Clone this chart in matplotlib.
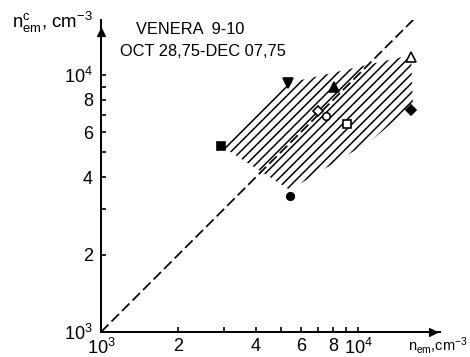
import matplotlib
matplotlib.use("Agg")
import matplotlib.pyplot as plt
from matplotlib.patches import Polygon

# electron density measurements, cm^-3 (VENERA 9-10)
n_em = [2930, 5340, 8070, 6990, 7500, 9060, 16080, 16080, 5430]
n_em_c = [5300, 9310, 8980, 7250, 6930, 6450, 11750, 7310, 3380]
point_markers = ["s", "v", "^", "D", "o", "s", "^", "D", "o"]
point_filled = [True, True, True, False, False, False, False, True, True]

# hatched scatter band outline
band_x = [2930, 5350, 16070, 16370, 11320, 5430]
band_y = [5300, 9310, 11970, 7640, 5580, 3570]

# equality line n_em^c = n_em
diag = [1000, 17100]

x_ticks = [1e3, 2e3, 3e3, 4e3, 5e3, 6e3, 7e3, 8e3, 9e3, 1e4]
x_labels = [r"$10^3$", "2", "", "4", "", "6", "", "8", "", r"$10^4$"]
y_ticks = [1e3, 2e3, 3e3, 4e3, 5e3, 6e3, 7e3, 8e3, 9e3, 1e4]
y_labels = [r"$10^3$", "2", "", "4", "", "6", "", "8", "", r"$10^4$"]

DPI = 84
W, H = 471, 357
plt.rcParams["font.family"] = ["Liberation Sans", "DejaVu Sans"]
plt.rcParams["mathtext.fontset"] = "custom"
plt.rcParams["mathtext.rm"] = "Liberation Sans"
plt.rcParams["mathtext.it"] = "Liberation Sans"
plt.rcParams["mathtext.default"] = "regular"
plt.rcParams["hatch.linewidth"] = 1.3

fig = plt.figure(figsize=(W / DPI, H / DPI), dpi=DPI)
ax = fig.add_axes([101 / W, 25 / H, 339 / W, 312 / H])
ax.set_xscale("log")
ax.set_yscale("log")
ax.set_xlim(1e3, 10 ** 4.319)
ax.set_ylim(1e3, 10 ** 4.214)

band = Polygon(list(zip(band_x, band_y)), closed=True, fill=False,
               hatch="///", edgecolor="black", linewidth=0)
ax.add_patch(band)

ax.plot(diag, diag, color="black", lw=1.5, dashes=(6, 2.5))

for x, y, m, f in zip(n_em, n_em_c, point_markers, point_filled):
    ms = 8.5 if m in ("^", "v") else 6.5
    ax.plot(x, y, marker=m, ms=ms, color="black",
            mfc="black" if f else "white", mec="black", mew=1.4,
            linestyle="none", zorder=5)

for s in ("top", "right"):
    ax.spines[s].set_visible(False)
for s in ("left", "bottom"):
    ax.spines[s].set_linewidth(1.7)

ax.set_xticks(x_ticks, labels=x_labels)
ax.set_yticks(y_ticks, labels=y_labels)
ax.minorticks_off()
ax.tick_params(axis="both", direction="in", length=4.5, width=1.4,
               labelsize=15.5)
ax.tick_params(axis="x", pad=5)
ax.tick_params(axis="y", pad=7)

# axis arrows
ax.plot(0.979, 0, marker=">", ms=7, color="black", transform=ax.transAxes,
        clip_on=False)
ax.plot(0, 0.962, marker="^", ms=7, color="black", transform=ax.transAxes,
        clip_on=False)

fig.text(12 / W, 1 - 22 / H, r"$n^{c}_{em}$, cm$^{-3}$", fontsize=16,
         va="center", ha="left")
fig.text(408 / W, 1 - 345 / H, r"$n_{em}$,cm$^{-3}$", fontsize=12.5,
         va="center", ha="left")
fig.text(136 / W, 1 - 30 / H, "VENERA  9-10", fontsize=14,
         va="center", ha="left")
fig.text(120 / W, 1 - 51 / H, "OCT 28,75-DEC 07,75", fontsize=14,
         va="center", ha="left")

fig.savefig("out.png", dpi=DPI)
